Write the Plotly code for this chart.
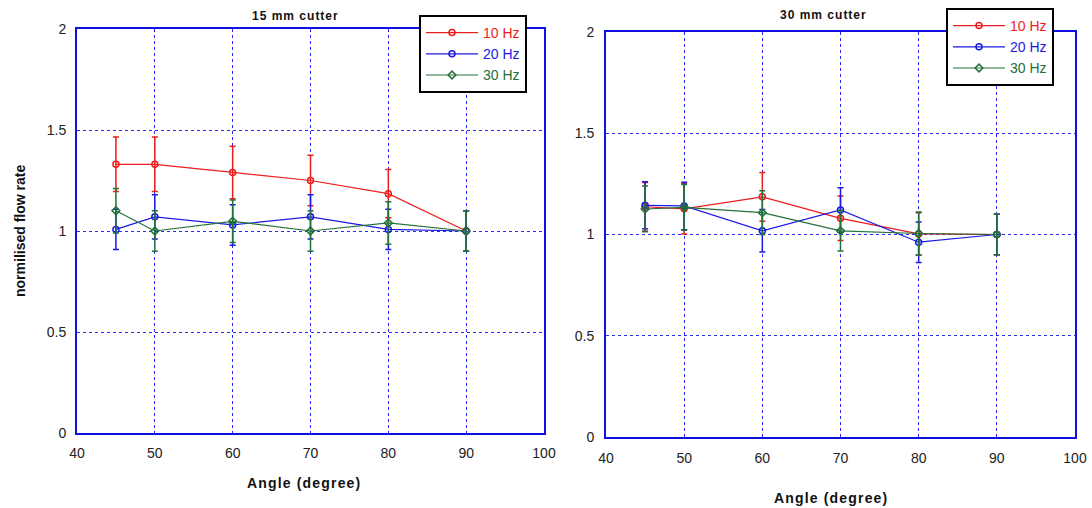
import plotly.graph_objects as go

angles = [45, 50, 60, 70, 80, 90]
series_names = ["10 Hz", "20 Hz", "30 Hz"]
colors = ["#ee1c1c", "#1a1ae6", "#23703a"]
symbols = ["circle-open", "circle-open", "diamond-open"]

# 15 mm cutter
left_vals = {
    "10 Hz": [1.33, 1.33, 1.29, 1.25, 1.185, 1.0],
    "20 Hz": [1.008, 1.07, 1.03, 1.07, 1.008, 1.0],
    "30 Hz": [1.10, 1.0, 1.048, 1.0, 1.04, 1.0],
}
left_err = {
    "10 Hz": [0.135, 0.135, 0.13, 0.125, 0.12, 0.10],
    "20 Hz": [0.10, 0.11, 0.10, 0.11, 0.10, 0.10],
    "30 Hz": [0.11, 0.10, 0.105, 0.10, 0.105, 0.10],
}
# 30 mm cutter
right_vals = {
    "10 Hz": [1.137, 1.127, 1.186, 1.08, 1.003, 1.0],
    "20 Hz": [1.144, 1.141, 1.018, 1.121, 0.962, 1.0],
    "30 Hz": [1.126, 1.134, 1.108, 1.018, 1.005, 1.0],
}
right_err = {
    "10 Hz": [0.12, 0.125, 0.12, 0.11, 0.105, 0.10],
    "20 Hz": [0.116, 0.117, 0.105, 0.11, 0.10, 0.10],
    "30 Hz": [0.113, 0.113, 0.108, 0.10, 0.106, 0.10],
}

x_ticks = [40, 50, 60, 70, 80, 90, 100]
y_ticks = [0, 0.5, 1, 1.5, 2]
y_tick_text = ["0", "0.5", "1", "1.5", "2"]

W, H = 1092, 508
FONT = "Liberation Sans, Arial"
HAIR = "\u200a"


def spaced(s):
    return HAIR.join(list(s))


fig = go.Figure()

for i, name in enumerate(series_names):
    c = colors[i]
    fig.add_trace(go.Scatter(
        x=angles, y=left_vals[name], mode="lines+markers",
        name=f"<span style='color:{c}'>{name}</span>",
        line=dict(color=c, width=1.2),
        marker=dict(symbol=symbols[i], size=6, color=c, line=dict(width=1.5, color=c)),
        error_y=dict(type="data", array=left_err[name], color=c, thickness=1.5, width=3),
        xaxis="x", yaxis="y", legend="legend",
    ))
for i, name in enumerate(series_names):
    c = colors[i]
    fig.add_trace(go.Scatter(
        x=angles, y=right_vals[name], mode="lines+markers",
        name=f"<span style='color:{c}'>{name}</span>",
        line=dict(color=c, width=1.2),
        marker=dict(symbol=symbols[i], size=6, color=c, line=dict(width=1.5, color=c)),
        error_y=dict(type="data", array=right_err[name], color=c, thickness=1.5, width=3),
        xaxis="x2", yaxis="y2", legend="legend2",
    ))

axis_common = dict(
    showline=True, linecolor="#1010e0", linewidth=2, mirror=True,
    showgrid=True, gridcolor="#2a2af0", griddash="dot", gridwidth=1,
    zeroline=False, ticks="", automargin=False,
    tickfont=dict(family=FONT, size=14, color="#222"),
)

fig.update_layout(
    width=W, height=H,
    margin=dict(l=0, r=0, t=0, b=0, autoexpand=False),
    paper_bgcolor="white", plot_bgcolor="white",
    showlegend=True,
    xaxis=dict(domain=[77/W, 544/W], range=[40, 100], tickvals=x_ticks, anchor="y",
               ticklabelstandoff=6, **axis_common),
    yaxis=dict(domain=[(H-433)/H, (H-29)/H], range=[0, 2], tickvals=y_ticks, ticktext=y_tick_text, anchor="x",
               ticklabelstandoff=6, **axis_common),
    xaxis2=dict(domain=[606/W, 1075/W], range=[40, 100], tickvals=x_ticks, anchor="y2",
                ticklabelstandoff=7, **axis_common),
    yaxis2=dict(domain=[(H-437)/H, (H-32)/H], range=[0, 2], tickvals=y_ticks, ticktext=y_tick_text, anchor="x2",
                ticklabelstandoff=7, **axis_common),
    legend=dict(x=419/W, y=1-15/H, xanchor="left", yanchor="top",
                bgcolor="white", bordercolor="black", borderwidth=2,
                font=dict(family=FONT, size=14), itemwidth=52,
                tracegroupgap=0),
    legend2=dict(x=946/W, y=1-8/H, xanchor="left", yanchor="top",
                 bgcolor="white", bordercolor="black", borderwidth=2,
                 font=dict(family=FONT, size=14), itemwidth=52,
                 tracegroupgap=0),
    annotations=[
        dict(text="<b>" + spaced("15 mm cutter") + "</b>", x=295/W, y=1-16/H, xref="paper", yref="paper",
             xanchor="center", yanchor="middle",
             showarrow=False, font=dict(family=FONT, size=12, color="#111")),
        dict(text="<b>" + spaced("30 mm cutter") + "</b>", x=823/W, y=1-15/H, xref="paper", yref="paper",
             xanchor="center", yanchor="middle",
             showarrow=False, font=dict(family=FONT, size=12, color="#111")),
        dict(text="<b>" + spaced("Angle (degree)") + "</b>", x=303/W, y=1-483/H, xref="paper", yref="paper",
             xanchor="center", yanchor="middle",
             showarrow=False, font=dict(family=FONT, size=14, color="#111")),
        dict(text="<b>" + spaced("Angle (degree)") + "</b>", x=830/W, y=1-498/H, xref="paper", yref="paper",
             xanchor="center", yanchor="middle",
             showarrow=False, font=dict(family=FONT, size=14, color="#111")),
        dict(text="<b>normilised flow rate</b>", x=20/W, y=1-231/H, xref="paper", yref="paper",
             xanchor="center", yanchor="middle",
             showarrow=False, textangle=-90, font=dict(family=FONT, size=14, color="#111")),
    ],
)

fig.write_html("out.html", config={"displayModeBar": False},
               post_script="document.body.style.margin='0';document.body.style.overflow='hidden';")
